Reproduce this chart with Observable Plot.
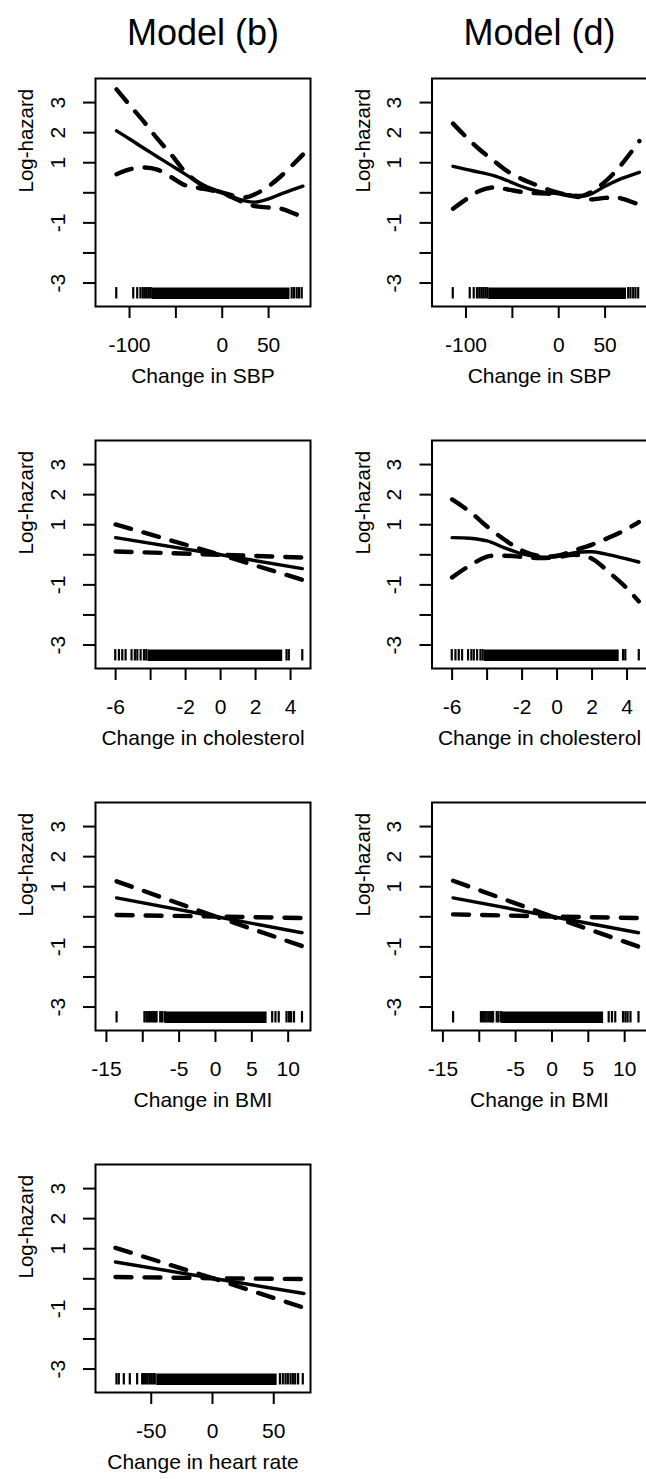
<!DOCTYPE html>
<html>
<head>
<meta charset="utf-8">
<script src="https://cdn.jsdelivr.net/npm/d3@7"></script>
<script src="https://cdn.jsdelivr.net/npm/@observablehq/plot@0.6"></script>
<style>
  html, body { margin: 0; padding: 0; background: white; }
  #wrap { position: relative; width: 646px; height: 1479px; overflow: hidden; background: white; }
  #wrap > svg { position: absolute; }
</style>
</head>
<body>
<div id="wrap"></div>
<script>
// ---------- Data ----------
const columnTitles = ["Model (b)", "Model (d)"];
const yTicks = [-3, -2, -1, 0, 1, 2, 3];
const yTickLabels = ["-3", "", "-1", "", "1", "2", "3"];

// Change in SBP
const sbpTicks = [-100, -50, 0, 50];
const sbpTickLabels = ["-100", "", "0", "50"];
const sbpX = [-114, -100, -85, -70, -55, -40, -25, -10, 0, 10, 25, 35, 50, 65, 87];
const sbpFitB   = [2.06, 1.79, 1.49, 1.20, 0.91, 0.62, 0.33, 0.12, 0.00, -0.12, -0.27, -0.31, -0.20, -0.02, 0.22];
const sbpUpperB = [3.44, 2.92, 2.38, 1.80, 1.27, 0.70, 0.32, 0.10, 0.01, -0.08, -0.15, -0.05, 0.22, 0.60, 1.27];
const sbpLowerB = [0.62, 0.78, 0.84, 0.77, 0.52, 0.25, 0.16, 0.07, 0.00, -0.14, -0.35, -0.44, -0.49, -0.54, -0.82];
const sbpFitD   = [0.88, 0.78, 0.68, 0.57, 0.40, 0.21, 0.07, 0.00, -0.03, -0.07, -0.12, -0.04, 0.22, 0.44, 0.68];
const sbpUpperD = [2.30, 1.86, 1.43, 1.06, 0.71, 0.46, 0.27, 0.09, 0.00, -0.06, -0.10, 0.02, 0.37, 0.84, 1.72];
const sbpLowerD = [-0.53, -0.22, 0.07, 0.18, 0.11, 0.03, -0.01, -0.03, -0.04, -0.08, -0.16, -0.22, -0.17, -0.17, -0.40];
const sbpRug = [-114.3, -96, -91.7, -88.2, -85.7, -83.5, -81.4, -79.2, -77.1, 74.9, 77.4, 80.3, 82.8, 85.7];
const sbpRugDense = [[-75.5, 73.1]];

// Change in cholesterol
const cholTicks = [-6, -4, -2, 0, 2, 4];
const cholTickLabels = ["-6", "", "-2", "0", "2", "4"];
const cholXB = [-6, 0, 4.67];
const cholFitB   = [0.57, 0.00, -0.46];
const cholUpperB = [1.01, 0.00, -0.09];
const cholLowerB = [0.11, 0.00, -0.83];
const cholXD = [-6, -5, -4, -3, -2, -1, 0, 1, 2, 3, 4, 4.67];
const cholFitD   = [0.57, 0.55, 0.46, 0.23, 0.03, -0.07, -0.06, 0.07, 0.10, 0.00, -0.14, -0.24];
const cholUpperD = [1.84, 1.44, 0.94, 0.50, 0.14, -0.04, -0.03, 0.15, 0.34, 0.58, 0.86, 1.09];
const cholLowerD = [-0.75, -0.36, -0.06, -0.03, -0.07, -0.11, -0.08, 0.00, -0.13, -0.60, -1.12, -1.55];
const cholRug = [-6.02, -5.81, -5.62, -5.43, -5.09, -4.9, -4.76, -4.57, -4.38, -4.25, 3.77, 3.9, 4.67];
const cholRugDense = [[-4.15, 3.55]];

// Change in BMI
const bmiTicks = [-15, -10, -5, 0, 5, 10];
const bmiTickLabels = ["-15", "", "-5", "0", "5", "10"];
const bmiX = [-13.6, 0, 11.9];
const bmiFitB   = [0.63, 0.01, -0.53];
const bmiUpperB = [1.18, 0.01, -0.04];
const bmiLowerB = [0.06, 0.01, -0.97];
const bmiFitD   = [0.63, 0.01, -0.53];
const bmiUpperD = [1.20, 0.01, -0.04];
const bmiLowerD = [0.08, 0.01, -0.99];
const bmiRug = [-13.6, -9.77, -9.5, -9.25, -9.0, -8.75, -8.5, -8.3, -8.1, -7.6, -7.35, -7.0, 7.8, 8.25, 8.7, 9.77, 10.1, 10.4, 10.8, 11.9];
const bmiRugDense = [[-6.9, 7.1]];

// Change in heart rate
const hrTicks = [-50, 0, 50];
const hrTickLabels = ["-50", "0", "50"];
const hrX = [-79.2, 0, 74.6];
const hrFitB   = [0.56, 0.02, -0.49];
const hrUpperB = [1.03, 0.02, -0.01];
const hrLowerB = [0.06, 0.02, -0.96];
const hrRug = [-78.4, -76.5, -72.4, -67.5, -61.5, -57.4, -56, -54.4, -53, -51.4, -50, -48.4, -47.1, 55, 57.4, 59.6, 61.5, 63.7, 65.6, 67.5, 69.9, 73.7];
const hrRugDense = [[-45.5, 52.8]];

// ---------- Layout ----------
const FONT = "'Liberation Sans', Arial, Helvetica, sans-serif";
const boxTops = [78, 440, 801.5, 1163.5];
const BOX_H = 228;
const MT = 78;
const SVG_H = 396;
const yDomain = [-3.78, 3.8];
const rugY1 = -3.53, rugY2 = -3.15, rugMid = -3.34;

const panels = [
  {row: 0, col: 0, title: columnTitles[0], xDomain: [-136.7, 95.2], ticks: sbpTicks, tickLabels: sbpTickLabels, xTitle: "Change in SBP",
   x: sbpX, fit: sbpFitB, upper: sbpUpperB, lower: sbpLowerB, curve: "catmull-rom", rug: sbpRug, rugDense: sbpRugDense},
  {row: 0, col: 1, title: columnTitles[1], xDomain: [-136.7, 95.2], ticks: sbpTicks, tickLabels: sbpTickLabels, xTitle: "Change in SBP",
   x: sbpX, fit: sbpFitD, upper: sbpUpperD, lower: sbpLowerD, curve: "catmull-rom", rug: sbpRug, rugDense: sbpRugDense},
  {row: 1, col: 0, xDomain: [-7.15, 5.14], ticks: cholTicks, tickLabels: cholTickLabels, xTitle: "Change in cholesterol",
   x: cholXB, fit: cholFitB, upper: cholUpperB, lower: cholLowerB, curve: "linear", rug: cholRug, rugDense: cholRugDense},
  {row: 1, col: 1, xDomain: [-7.15, 5.14], ticks: cholTicks, tickLabels: cholTickLabels, xTitle: "Change in cholesterol",
   x: cholXD, fit: cholFitD, upper: cholUpperD, lower: cholLowerD, curve: "catmull-rom", rug: cholRug, rugDense: cholRugDense},
  {row: 2, col: 0, xDomain: [-16.5, 13.07], ticks: bmiTicks, tickLabels: bmiTickLabels, xTitle: "Change in BMI",
   x: bmiX, fit: bmiFitB, upper: bmiUpperB, lower: bmiLowerB, curve: "linear", rug: bmiRug, rugDense: bmiRugDense},
  {row: 2, col: 1, xDomain: [-16.5, 13.07], ticks: bmiTicks, tickLabels: bmiTickLabels, xTitle: "Change in BMI",
   x: bmiX, fit: bmiFitD, upper: bmiUpperD, lower: bmiLowerD, curve: "linear", rug: bmiRug, rugDense: bmiRugDense},
  {row: 3, col: 0, xDomain: [-95.5, 80], ticks: hrTicks, tickLabels: hrTickLabels, xTitle: "Change in heart rate",
   x: hrX, fit: hrFitB, upper: hrUpperB, lower: hrLowerB, curve: "linear", rug: hrRug, rugDense: hrRugDense}
];

const wrap = document.getElementById("wrap");

for (const p of panels) {
  const left = p.col === 0 ? 0 : 323;
  const W = p.col === 0 ? 323 : 324;
  const ML = p.col === 0 ? 95 : 108.5;
  const MR = p.col === 0 ? 13 : 0.5;
  const yLab = new Map(yTicks.map((t, i) => [t, yTickLabels[i]]));
  const xLab = new Map(p.ticks.map((t, i) => [t, p.tickLabels[i]]));
  const dashed = {stroke: "black", strokeWidth: 4.4, strokeDasharray: "16,13", strokeLinecap: "round", curve: p.curve};
  const marks = [
    Plot.axisY(yTicks, {tickSize: 12, tickPadding: 19, tickRotate: -90, tickFormat: d => yLab.get(d),
      strokeWidth: 2, fontSize: 21, label: null}),
    Plot.axisX(p.ticks, {tickSize: 12, tickPadding: 19, tickFormat: d => xLab.get(d),
      strokeWidth: 2, fontSize: 21, label: null}),
    Plot.frame({stroke: "black", strokeWidth: 2}),
    // dense part of the rug: a solid black band
    Plot.ruleY(p.rugDense, {y: rugMid, x1: d => d[0], x2: d => d[1], stroke: "black", strokeWidth: 11.5, strokeLinecap: "butt"}),
    Plot.ruleX(p.rug, {x: d => d, y1: rugY1, y2: rugY2, stroke: "black", strokeWidth: 2.2}),
    Plot.line(p.x, {x: p.x, y: p.upper, ...dashed}),
    Plot.line(p.x, {x: p.x, y: p.lower, ...dashed}),
    Plot.line(p.x, {x: p.x, y: p.fit, stroke: "black", strokeWidth: 3.4, strokeLinecap: "round", curve: p.curve}),
    Plot.text([p.xTitle], {frameAnchor: "bottom", dy: 76, lineAnchor: "bottom", fontSize: 21, fill: "black"}),
    Plot.text(["Log-hazard"], {frameAnchor: "left", dx: -69, rotate: -90, fontSize: 20.5, fill: "black"})
  ];
  if (p.title) {
    marks.push(Plot.text([p.title], {frameAnchor: "top", dy: -34, lineAnchor: "bottom", fontSize: 36, fill: "black"}));
  }
  const svg = Plot.plot({
    width: W,
    height: SVG_H,
    marginLeft: ML,
    marginRight: MR,
    marginTop: MT,
    marginBottom: SVG_H - MT - BOX_H,
    style: {background: "transparent", fontFamily: FONT, fontSize: "20px", color: "black", overflow: "visible", maxWidth: "none"},
    x: {domain: p.xDomain},
    y: {domain: yDomain},
    marks
  });
  svg.style.left = left + "px";
  svg.style.top = (boxTops[p.row] - MT) + "px";
  wrap.appendChild(svg);
}
</script>
</body>
</html>
